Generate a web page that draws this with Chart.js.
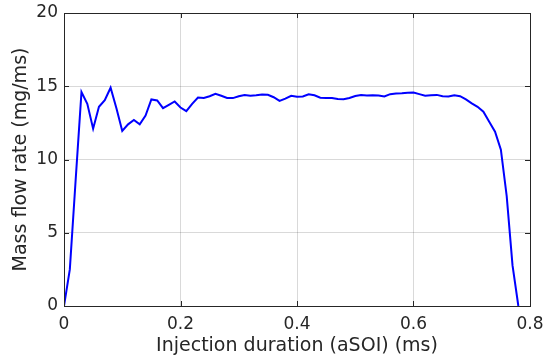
<!DOCTYPE html>
<html>
<head>
<meta charset="utf-8">
<script src="https://cdn.jsdelivr.net/npm/chart.js@4"></script>
<style>
  body { margin: 0; background: #fff; }
  #wrap { width: 545px; height: 360px; }
</style>
</head>
<body>
<div id="wrap"><canvas id="myChart" width="545" height="360"></canvas></div>
<script>
// injection time (ms) and mass flow rate (mg/ms)
var times = [0.00, 0.01, 0.02, 0.03, 0.04, 0.05, 0.06, 0.07, 0.08, 0.09,
    0.10, 0.11, 0.12, 0.13, 0.14, 0.15, 0.16, 0.17, 0.18, 0.19,
    0.20, 0.21, 0.22, 0.23, 0.24, 0.25, 0.26, 0.27, 0.28, 0.29,
    0.30, 0.31, 0.32, 0.33, 0.34, 0.35, 0.36, 0.37, 0.38, 0.39,
    0.40, 0.41, 0.42, 0.43, 0.44, 0.45, 0.46, 0.47, 0.48, 0.49,
    0.50, 0.51, 0.52, 0.53, 0.54, 0.55, 0.56, 0.57, 0.58, 0.59,
    0.60, 0.61, 0.62, 0.63, 0.64, 0.65, 0.66, 0.67, 0.68, 0.69,
    0.70, 0.71, 0.72, 0.73, 0.74, 0.75, 0.76, 0.77, 0.78];

var flow = [0, 2.5, 8.6, 14.6, 13.8, 12.1, 13.6, 14.05, 14.9, 13.5,
    11.95, 12.4, 12.7, 12.4, 13.0, 14.1, 14.03, 13.5, 13.73, 13.96,
    13.55, 13.3, 13.8, 14.23, 14.2, 14.32, 14.48, 14.35, 14.2, 14.19,
    14.32, 14.4, 14.35, 14.38, 14.44, 14.42, 14.25, 14.0, 14.16, 14.35,
    14.28, 14.3, 14.45, 14.38, 14.22, 14.2, 14.2, 14.13, 14.12, 14.2,
    14.33, 14.4, 14.37, 14.39, 14.37, 14.3, 14.46, 14.5, 14.52, 14.55,
    14.57, 14.46, 14.35, 14.39, 14.41, 14.32, 14.3, 14.39, 14.32, 14.1,
    13.83, 13.6, 13.26, 12.58, 11.9, 10.67, 7.5, 2.77, 0];

var xTicks = [0, 0.2, 0.4, 0.6, 0.8];
var yTicks = [0, 5, 10, 15, 20];

var textColor = '#262626';
var fontFamily = '"DejaVu Sans", sans-serif';

var points = [];
for (let i = 0; i < times.length; i++) {
    points.push({ x: times[i], y: flow[i] });
}

// box around plot area + inward ticks, matlab style
var boxPlugin = {
    id: 'box',
    afterDraw: function (chart) {
        let c = chart.ctx;
        let a = chart.chartArea;
        let xs = chart.scales.x;
        let ys = chart.scales.y;
        c.save();
        c.strokeStyle = textColor;
        c.lineWidth = 1;
        c.strokeRect(Math.round(a.left) + 0.5, Math.round(a.top) + 0.5,
            Math.round(a.right - a.left), Math.round(a.bottom - a.top));
        c.beginPath();
        xTicks.forEach(function (v) {
            let px = Math.round(xs.getPixelForValue(v)) + 0.5;
            c.moveTo(px, a.bottom);
            c.lineTo(px, a.bottom - 5);
            c.moveTo(px, a.top);
            c.lineTo(px, a.top + 5);
        });
        yTicks.forEach(function (v) {
            let py = Math.round(ys.getPixelForValue(v)) + 0.5;
            c.moveTo(a.left, py);
            c.lineTo(a.left + 5, py);
            c.moveTo(a.right, py);
            c.lineTo(a.right - 5, py);
        });
        c.stroke();
        c.restore();
    }
};

var ctx = document.getElementById('myChart').getContext('2d');

var myChart = new Chart(ctx, {
    type: 'line',
    data: {
        datasets: [{
            data: points,
            borderColor: '#0000ff',
            borderWidth: 2,
            pointRadius: 0,
            fill: false,
            tension: 0
        }]
    },
    options: {
        responsive: false,
        animation: false,
        layout: { padding: { top: 13, right: 0, left: 0, bottom: 0 } },
        plugins: {
            legend: { display: false },
            tooltip: { enabled: false }
        },
        scales: {
            x: {
                type: 'linear',
                min: 0,
                max: 0.8,
                afterFit: function (s) {
                    s.height = 54;
                    s.paddingLeft = 0;
                    s.paddingRight = 15;
                },
                afterBuildTicks: function (s) { s.ticks = xTicks.map(v => ({ value: v })); },
                ticks: {
                    color: textColor,
                    padding: 8,
                    maxRotation: 0,
                    font: { family: fontFamily, size: 17 },
                    callback: v => String(v)
                },
                grid: { color: 'rgba(0,0,0,0.15)', drawTicks: false },
                border: { display: false },
                title: {
                    display: true,
                    text: 'Injection duration (aSOI) (ms)',
                    color: textColor,
                    font: { family: fontFamily, size: 19 },
                    padding: { top: 0, bottom: 3 }
                }
            },
            y: {
                min: 0,
                max: 20,
                afterFit: function (s) {
                    s.width = 64;
                    s.paddingTop = 0;
                    s.paddingBottom = 0;
                },
                afterBuildTicks: function (s) { s.ticks = yTicks.map(v => ({ value: v })); },
                ticks: {
                    color: textColor,
                    padding: 6,
                    font: { family: fontFamily, size: 17 },
                    callback: v => String(v)
                },
                grid: { color: 'rgba(0,0,0,0.15)', drawTicks: false },
                border: { display: false },
                title: {
                    display: true,
                    text: 'Mass flow rate (mg/ms)',
                    color: textColor,
                    font: { family: fontFamily, size: 19 },
                    padding: { top: 10, bottom: 0 }
                }
            }
        }
    },
    plugins: [boxPlugin]
});
</script>
</body>
</html>
